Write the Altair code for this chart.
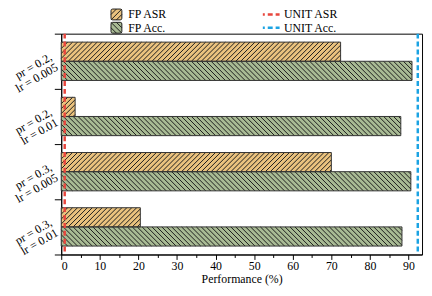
import altair as alt
import pandas as pd

# ---- data ----
configs = ["pr = 0.2,|lr = 0.005", "pr = 0.2,|lr = 0.01",
           "pr = 0.3,|lr = 0.005", "pr = 0.3,|lr = 0.01"]
series = ["FP ASR", "FP Acc."]
fp_asr = [72.4, 3.6, 70.0, 20.5]
fp_acc = [90.9, 88.0, 90.6, 88.3]
unit_names = ["UNIT ASR", "UNIT Acc."]
unit_values = [0.9, 92.4]

# ---- styling ----
FONT = "Liberation Serif"
ORANGE = "#EAC27E"
GREEN = "#A8BA94"
INK = "#1c1c1c"
RED = "#E8463D"
BLUE = "#1BA3E3"

W, H = 366, 224
XMAX = 93.5
PX = W / XMAX
PAD_OUTER = 0.44
NB = len(configs)
BAND = H / NB
STEP = 1.0 / (2 + 2 * PAD_OUTER)      # bar height in band units
BAR_H = BAND * STEP                    # bar height in px
PERIOD = 5.0                           # hatch spacing (px, horizontal)

rows = []
for c, a, b in zip(configs, fp_asr, fp_acc):
    rows.append({"config": c, "series": series[0], "value": a})
    rows.append({"config": c, "series": series[1], "value": b})
bars = pd.DataFrame(rows)

# ---- hatch lines (decoration derived from every bar's value) ----
hat = []
for i, c in enumerate(configs):
    for k, (s, v) in enumerate(zip(series, [fp_asr[i], fp_acc[i]])):
        top = i + (PAD_OUTER + k) * STEP
        w = v * PX
        fwd = k == 0
        cc = 1.5
        while cc < w + BAR_H:
            if fwd:   # "/" : X + Y = cc
                y_lo, y_hi = max(0.0, cc - w), min(BAR_H, cc)
                p0, p1 = (cc - y_lo, y_lo), (cc - y_hi, y_hi)
            else:     # "\" : X - Y = cc - BAR_H
                d = cc - BAR_H
                y_lo, y_hi = max(0.0, -d), min(BAR_H, w - d)
                p0, p1 = (d + y_lo, y_lo), (d + y_hi, y_hi)
            if y_hi - y_lo > 0.05:
                hat.append({"hx0": p0[0] / PX, "hx1": p1[0] / PX,
                            "hy0": top + p0[1] / BAND, "hy1": top + p1[1] / BAND})
            cc += PERIOD
hatch_df = pd.DataFrame(hat)

x_axis = alt.Axis(values=list(range(0, 95, 5)),
                  labelExpr="datum.value % 10 === 0 ? datum.label : ''",
                  tickSize={"condition": {"test": "datum.value % 10 === 0", "value": 5}, "value": 3},
                  title="Performance (%)", grid=False, labelPadding=1, titlePadding=2,
                  labelFont=FONT, titleFont=FONT, labelFontSize=12, titleFontSize=12)
x_scale = alt.Scale(domain=[0, XMAX], nice=False, zero=True)

y_axis = alt.Axis(title=None, tickBand="extent", tickSize=7, labelAngle=330,
                  labelAlign="right", labelBaseline="middle", labelPadding=4,
                  labelOffset=-6,
                  labelExpr="split(datum.label, '|')", labelLineHeight=12,
                  labelFont=FONT, labelFontSize=12)
y_scale = alt.Scale(domain=configs, paddingInner=0, paddingOuter=0)
YO = alt.YOffset("series:N", sort=series,
                 scale=alt.Scale(domain=series, paddingInner=0, paddingOuter=PAD_OUTER))
XV = alt.X("value:Q", scale=x_scale, axis=x_axis)

base = alt.Chart(bars).mark_bar().encode(
    x=XV, y=alt.Y("config:N", sort=configs, scale=y_scale, axis=y_axis), yOffset=YO,
    color=alt.Color("series:N", scale=alt.Scale(domain=series, range=[ORANGE, GREEN]),
                    legend=None),
)

hatch = alt.Chart(hatch_df).mark_rule(color=INK, strokeWidth=1).encode(
    x=alt.X("hx0:Q", scale=x_scale, axis=x_axis), x2="hx1:Q",
    y=alt.Y("hy0:Q", scale=alt.Scale(domain=[0, NB], reverse=True, nice=False, zero=False),
            axis=None),
    y2="hy1:Q",
)

outline = alt.Chart(bars).mark_bar(fillOpacity=0, stroke="#333333", strokeWidth=1).encode(
    x=XV, y=alt.Y("config:N", sort=configs, scale=y_scale, axis=None), yOffset=YO,
)

SQ = "M-0.7,-1L0.7,-1Q1,-1,1,-0.7L1,0.7Q1,1,0.7,1L-0.7,1Q-1,1,-1,0.7L-1,-0.7Q-1,-1,-0.7,-1Z"
FWD = SQ + "M-1,0L0,-1M-1,1L1,-1M0,1L1,0"
BWD = SQ + "M-1,0L0,1M-1,-1L1,1M0,-1L1,0"


def fp_key(name, col, path, ly):
    leg = alt.Legend(title=None, orient="none", legendX=50, legendY=ly,
                     symbolSize=121, symbolStrokeColor=INK, symbolStrokeWidth=1,
                     symbolOpacity=1, labelFont=FONT, labelFontSize=12,
                     labelOffset=6, padding=0)
    return alt.Chart(bars).transform_filter("false").mark_point(
        filled=False, strokeWidth=1).encode(
        fill=alt.Fill("series:N", scale=alt.Scale(domain=[name], range=[col]), legend=leg),
        stroke=alt.Stroke("series:N", scale=alt.Scale(domain=[name], range=[INK]), legend=leg),
        shape=alt.Shape("series:N", scale=alt.Scale(domain=[name], range=[path]), legend=leg),
    )


def unit_key(name, val, col, ly):
    d = pd.DataFrame({"series": [name], "value": [val]})
    return alt.Chart(d).mark_rule(strokeDash=[5, 3], strokeWidth=2.5).encode(
        x=XV,
        stroke=alt.Stroke("series:N", scale=alt.Scale(domain=[name], range=[col]),
                          legend=alt.Legend(title=None, orient="none", legendX=203,
                                            legendY=ly, symbolType="stroke",
                                            symbolSize=289, symbolStrokeWidth=2.5,
                                            symbolDash=[5, 3], symbolDashOffset=3,
                                            labelFont=FONT, labelFontSize=12,
                                            labelOffset=3, padding=0)),
    )


layers = [base, hatch, outline,
          unit_key(unit_names[0], unit_values[0], RED, -29.5),
          unit_key(unit_names[1], unit_values[1], BLUE, -16),
          fp_key(series[0], ORANGE, FWD, -25.5),
          fp_key(series[1], GREEN, BWD, -12)]

chart = alt.layer(*layers).resolve_scale(
    y="independent", fill="independent", shape="independent", stroke="independent"
).properties(
    width=W, height=H,
    autosize=alt.AutoSizeParams(type="none"),
    padding={"left": 54, "top": 24, "right": 2, "bottom": 36},
).configure_view(stroke="black", strokeWidth=1).configure_axis(
    labelFont=FONT, labelFontSize=12, labelColor="black",
    titleFont=FONT, titleFontSize=12, titleFontWeight="normal", titleColor="black",
    domainColor="black", tickColor="black", domainWidth=1, tickWidth=1,
).configure_legend(labelColor="black", labelFont=FONT)

chart.save("out.html", embed_options={"renderer": "svg", "actions": False})
